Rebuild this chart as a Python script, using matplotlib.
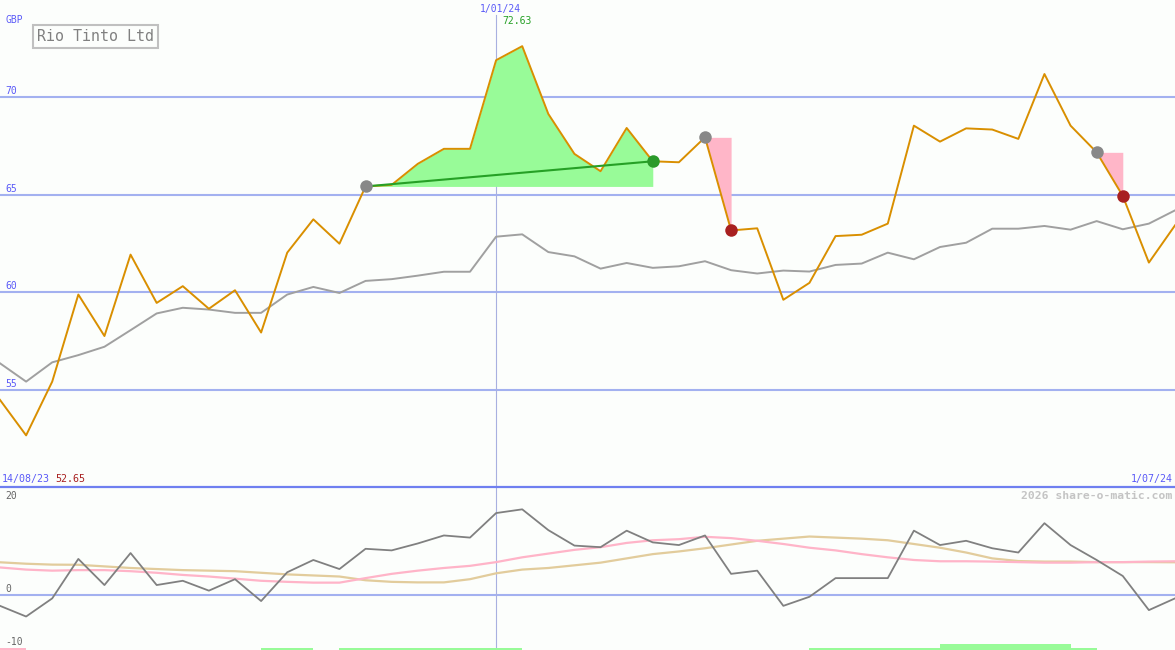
import matplotlib
matplotlib.use("Agg")
import matplotlib.pyplot as plt
from matplotlib.lines import Line2D
from matplotlib.patches import Rectangle

# ---------------- data ----------------
title = "Rio Tinto Ltd"
currency = "GBP"
start_label = "14/08/23"
mid_label = "1/01/24"
end_label = "1/07/24"
min_label = "52.65"
max_label = "72.63"
credit = "2026 share-o-matic.com"
mid_index = 19

price = [54.47, 52.65, 55.41, 59.88, 57.75, 61.93, 59.45, 60.31, 59.15, 60.10,
         57.93, 62.03, 63.74, 62.49, 65.43, 65.51, 66.59, 67.36, 67.36, 71.91,
         72.63, 69.15, 67.10, 66.21, 68.43, 66.72, 66.67, 67.95, 63.17, 63.28,
         59.61, 60.48, 62.88, 62.95, 63.52, 68.55, 67.73, 68.41, 68.35, 67.87,
         71.20, 68.55, 67.18, 64.94, 61.52, 63.43]

moving_avg = [56.35, 55.41, 56.40, 56.77, 57.20, 58.05, 58.91, 59.20, 59.11, 58.94,
              58.94, 59.88, 60.27, 59.96, 60.58, 60.67, 60.85, 61.05, 61.05, 62.85,
              62.97, 62.06, 61.84, 61.21, 61.50, 61.25, 61.33, 61.59, 61.13, 60.96,
              61.11, 61.06, 61.40, 61.47, 62.03, 61.69, 62.32, 62.54, 63.26, 63.26,
              63.40, 63.21, 63.65, 63.23, 63.52, 64.20]

momentum = [-2.1, -4.1, -0.7, 6.7, 1.8, 7.8, 1.8, 2.6, 0.75, 2.9,
            -1.2, 4.2, 6.5, 4.8, 8.6, 8.3, 9.6, 11.1, 10.7, 15.3,
            16.0, 12.1, 9.2, 8.9, 12.0, 9.8, 9.3, 11.1, 3.9, 4.5,
            -2.1, -0.4, 3.1, 3.1, 3.1, 12.0, 9.3, 10.1, 8.7, 7.9,
            13.4, 9.3, 6.5, 3.5, -2.9, -0.7]

signal_fast = [5.1, 4.7, 4.5, 4.6, 4.6, 4.4, 4.1, 3.7, 3.4, 3.0,
               2.6, 2.4, 2.25, 2.25, 3.1, 3.9, 4.5, 5.0, 5.4, 6.1,
               7.0, 7.7, 8.4, 8.9, 9.7, 10.2, 10.4, 10.85, 10.6, 10.1,
               9.5, 8.8, 8.3, 7.6, 7.0, 6.5, 6.26, 6.26, 6.2, 6.1,
               6.0, 6.0, 6.1, 6.1, 6.2, 6.26]

signal_slow = [6.07, 5.8, 5.63, 5.6, 5.3, 5.0, 4.8, 4.6, 4.5, 4.4,
               4.1, 3.8, 3.6, 3.4, 2.7, 2.4, 2.3, 2.3, 2.9, 4.0,
               4.7, 5.0, 5.5, 6.0, 6.8, 7.6, 8.1, 8.7, 9.4, 10.1,
               10.5, 10.9, 10.7, 10.5, 10.2, 9.5, 8.8, 7.9, 6.8, 6.3,
               6.2, 6.2, 6.1, 6.1, 6.1, 6.07]

# trend bar state per period: 0 none, 1 up, 2 strong up, -1 down
trend_state = [-1, 0, 0, 0, 0, 0, 0, 0, 0, 0,
               1, 1, 0, 1, 1, 1, 1, 1, 1, 1,
               0, 0, 0, 0, 0, 0, 0, 0, 0, 0,
               0, 1, 1, 1, 1, 1, 2, 2, 2, 2,
               2, 1, 0, 0, 0]

# signals: (start index, end index)
buy_trade = (14, 25)
sell_signals = [(27, 28), (42, 43)]

top_ticks = [55, 60, 65, 70]
bottom_ticks = [20, 0, -10]

# ---------------- style ----------------
W, H = 1175, 650
bg = "#fcfefc"
grid_c = "#a3b1f0"
blue_txt = "#5a5af8"
orange = "#d98f00"
mono = "DejaVu Sans Mono"

fig = plt.figure(figsize=(W / 100, H / 100), dpi=100)
fig.patch.set_facecolor(bg)

split = 487
ax1 = fig.add_axes([0, 1 - split / H, 1, split / H])
ax2 = fig.add_axes([0, 0, 1, (H - split - 1) / H])
for ax in (ax1, ax2):
    ax.set_facecolor(bg)
    for s in ax.spines.values():
        s.set_visible(False)
    ax.set_xticks([])
    ax.set_yticks([])

x = list(range(len(price)))
n = len(price)

# ---- top panel ----
ax1.set_xlim(0, n - 1)
ax1.set_ylim(50, 75)
for t in top_ticks:
    ax1.axhline(t, color=grid_c, lw=1.5, zorder=1)
    ax1.annotate(str(t), xy=(0, t), xycoords=("axes fraction", "data"),
                 xytext=(5, 6), textcoords="offset pixels", ha="left", va="center",
                 fontsize=7, color=blue_txt, family=mono)
ax1.axvline(mid_index, ymax=1 - 15 / split, color="#a8b0e0", lw=0.8, zorder=1)

b0, b1 = buy_trade
ax1.fill_between(x[b0:b1 + 1], price[b0:b1 + 1], price[b0], color="#98fb98",
                 lw=0, zorder=2)
for s0, s1 in sell_signals:
    ax1.fill_between(x[s0:s1 + 1], price[s0:s1 + 1], price[s0], color="#ffb6c8",
                     lw=0, zorder=2)

ax1.plot(x, moving_avg, color="#a0a0a0", lw=1.4, zorder=3)
ax1.plot(x, price, color=orange, lw=1.4, zorder=4)
ax1.plot([x[b0], x[b1]], [price[b0], price[b1]], color="#26a026", lw=1.5, zorder=5)

ms = 9
ax1.plot([x[b0]], [price[b0]], "o", color="#888888", ms=ms, mew=0, zorder=6)
ax1.plot([x[b1]], [price[b1]], "o", color="#2a9a2a", ms=ms, mew=0, zorder=6)
for s0, s1 in sell_signals:
    ax1.plot([x[s0]], [price[s0]], "o", color="#888888", ms=ms, mew=0, zorder=6)
    ax1.plot([x[s1]], [price[s1]], "o", color="#a82020", ms=ms, mew=0, zorder=6)

# ---- bottom panel ----
ylo, yhi = -10.38, 20.0
ax2.set_xlim(0, n - 1)
ax2.set_ylim(ylo, yhi)
ax2.axhline(0, color=grid_c, lw=1.5, zorder=1)
ax2.axvline(mid_index, color="#a8b0e0", lw=0.8, zorder=1)
for t in bottom_ticks:
    dy = -8 if t == 20 else 6
    ax2.annotate(str(t), xy=(0, t), xycoords=("axes fraction", "data"),
                 xytext=(5, dy), textcoords="offset pixels", ha="left", va="center",
                 fontsize=7, color="#666666", family=mono)

ax2.plot(x, signal_slow, color="#e2cc9c", lw=1.6, zorder=2)
ax2.plot(x, signal_fast, color="#ffb4c8", lw=1.6, zorder=3)
ax2.plot(x, momentum, color="#808080", lw=1.3, zorder=4)

for i, st in enumerate(trend_state):
    if st == 0:
        continue
    col = "#98fb98" if st > 0 else "#ffb6c8"
    h = 1.15 if st == 2 else 0.45
    ax2.bar(i, h, width=1, bottom=ylo, align="edge", color=col, lw=0, zorder=2)


# ---- figure texts ----
def ftxt(px, py, s, **kw):
    fig.text(px / W, 1 - py / H, s, family=mono, va="center", **kw)


fig.add_artist(Line2D([0, 1], [1 - 487 / H] * 2, transform=fig.transFigure,
                      color="#6f7ff0", lw=1.6))
ftxt(5, 20, currency, fontsize=7, color=blue_txt, ha="left")
ftxt(500, 9, mid_label, fontsize=7, color=blue_txt, ha="center")
ftxt(502, 21, max_label, fontsize=7, color="#26a026", ha="left")
ftxt(2, 479, start_label, fontsize=7.2, color=blue_txt, ha="left")
ftxt(55, 479, min_label, fontsize=7.2, color="#a82020", ha="left")
ftxt(1173, 479, end_label, fontsize=7.2, color=blue_txt, ha="right")
ftxt(1172, 496, credit, fontsize=8.2, color="#c4c4c4", ha="right", weight="bold")

fig.add_artist(Rectangle((33 / W, 1 - 48 / H), 125 / W, 23 / H,
                         transform=fig.transFigure, fill=False,
                         edgecolor="#c0c0c0", lw=1.5))
ftxt(37, 36.5, title, fontsize=10.8, color="#808080", ha="left")

fig.savefig("out.png", dpi=100, facecolor=bg)
